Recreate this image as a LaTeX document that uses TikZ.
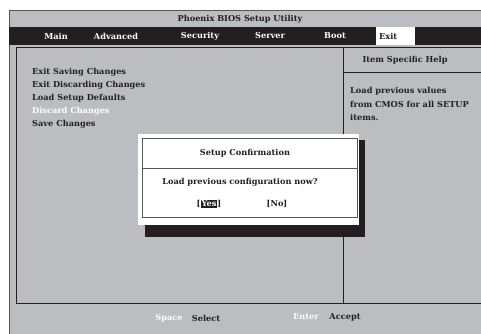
\documentclass[tikz,border=0pt]{standalone}
\usepackage{fontspec}
\setmainfont{DejaVu Serif}
\definecolor{biosgray}{HTML}{BCBDC1}
\definecolor{biosblack}{HTML}{231F20}
\definecolor{framegray}{HTML}{55565A}
\tikzset{
  x=1pt, y=-1pt,
  txt/.style={font=\fontsize{8.2}{9.5}\selectfont\bfseries, inner sep=0pt, text=biosblack},
  menuitem/.style={txt, text=white},
  item/.style={txt, anchor=west},
  hl/.style={txt, text=white},
}
\begin{document}
\begin{tikzpicture}
\useasboundingbox[fill=white] (0,0) rectangle (481,333);
% outer frame
\filldraw[fill=biosgray, draw=framegray, line width=0.8pt] (9,10) rectangle (495,345);
\node[txt] (title) at (240,19) {Phoenix BIOS Setup Utility};
% menu bar
\fill[biosblack] (9.4,27) rectangle (495,45);
\node[menuitem] (m1) at (56,36) {Main};
\node[menuitem] (m2) at (116,36) {Advanced};
\node[menuitem] (m3) at (200,36) {Security};
\node[menuitem] (m4) at (270,36) {Server};
\node[menuitem] (m5) at (335,36) {Boot};
\fill[white] (376,27) rectangle (415,45);
\node[item] (m6) at (379,36) {Exit};
% inner panel
\draw[biosblack, line width=0.8pt] (16,47) rectangle (495,303);
\draw[biosblack, line width=0.8pt] (343,47) -- (343,303);
\draw[biosblack, line width=0.8pt] (343,72) -- (495,72);
\node[txt] (helphead) at (405,60) {Item Specific Help};
% items
\node[item] (i1) at (32,72) {Exit Saving Changes};
\node[item] (i2) at (32,85) {Exit Discarding Changes};
\node[item] (i3) at (32,98.5) {Load Setup Defaults};
\node[item, text=white] (i4) at (32,111) {Discard Changes};
\node[item] (i5) at (32,124) {Save Changes};
% help text
\node[item] (h1) at (350,91) {Load previous values};
\node[item] (h2) at (350,104) {from CMOS for all SETUP};
\node[item] (h3) at (350,117) {items.};
% dialog
\fill[biosblack] (145,140) rectangle (365,237);
\fill[white] (138,134) rectangle (359,225);
\draw[framegray, line width=0.8pt] (142,138) rectangle (357,217);
\draw[framegray, line width=0.8pt] (142,168) -- (357,168);
\node[txt] (dtitle) at (245,153) {Setup Confirmation};
\node[txt] (dq) at (240,182) {Load previous configuration now?};
\node[txt, fill=biosblack, text=white, inner xsep=0.6pt, inner ysep=1.2pt] (yes) at (209,204) {Yes};
\node[txt, anchor=east] (lb) at (yes.west) {[};
\node[txt, anchor=west] (rb) at (yes.east) {]};
\node[txt] (no) at (277,204) {[No]};
% footer
\node[hl, text=white!95!biosgray] (k1) at (169,318) {Space};
\node[txt] (k1t) at (206,318) {Select};
\node[hl, text=white!95!biosgray] (k2) at (306,317) {Enter};
\node[txt] (k2t) at (345,317) {Accept};
\end{tikzpicture}
\end{document}
